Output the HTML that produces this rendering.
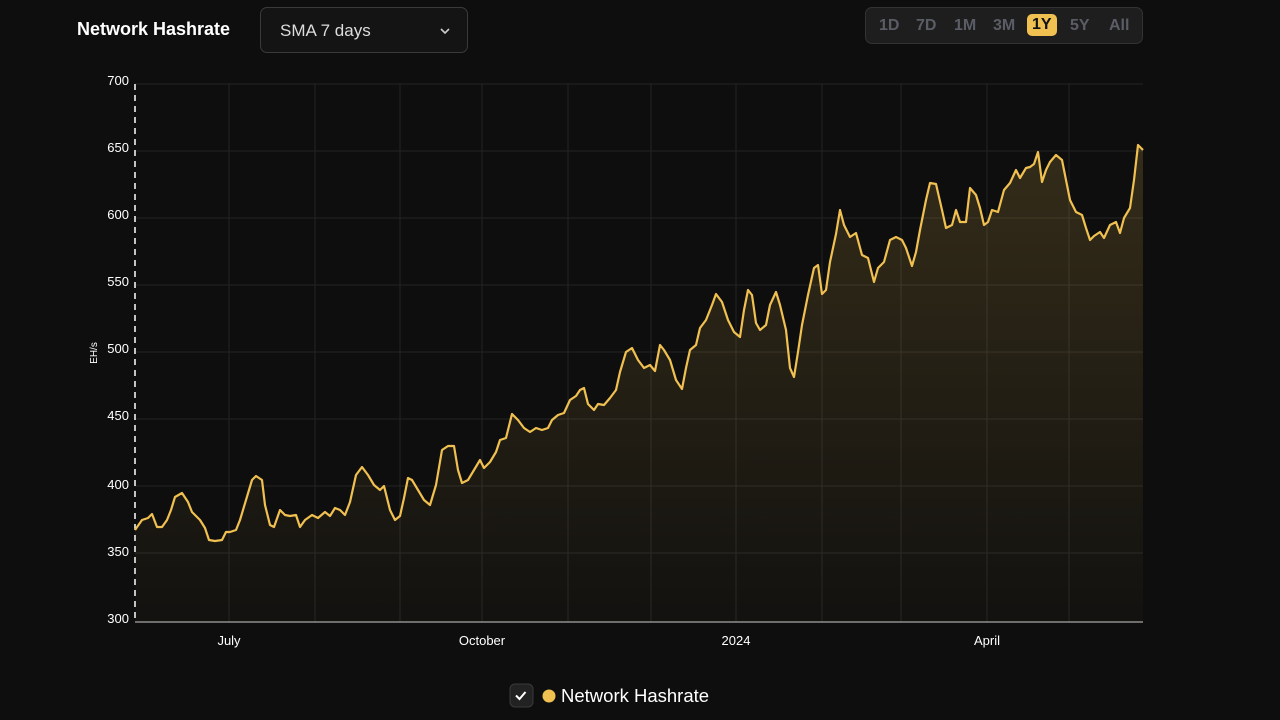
<!DOCTYPE html>
<html><head><meta charset="utf-8"><style>
body{margin:0;width:1280px;height:720px;background:#0e0e0e;overflow:hidden;font-family:"Liberation Sans",sans-serif;color:#fff}
.t{position:absolute;left:77px;top:19px;font-size:18px;font-weight:bold}
.dd{position:absolute;left:260px;top:7px;width:208px;height:46px;border:1px solid #3a3a3a;border-radius:7px;background:#141414;box-sizing:border-box}
.dd span{position:absolute;left:19px;top:13px;font-size:17px;color:#ddd}
.rg{position:absolute;left:865px;top:7px;width:278px;height:37px;border:1px solid #333;border-radius:7px;background:#1e1e1e;box-sizing:border-box}
.rg span{position:absolute;top:9px;font-size:16px;font-weight:bold;color:#5a5d66}
.rg .a{background:#f0c050;color:#111;border-radius:5px;padding:2px 5px;top:6px}
</style></head><body>
<div class="t">Network Hashrate</div>
<div class="dd"><span>SMA 7 days</span><svg style="position:absolute;left:179px;top:20px" width="10" height="7"><path d="M1 1l4 4 4-4" stroke="#ccc" stroke-width="1.6" fill="none"/></svg></div>
<div class="rg"><span style="left:13px">1D</span><span style="left:50px">7D</span><span style="left:88px">1M</span><span style="left:127px">3M</span><span class="a" style="left:161px">1Y</span><span style="left:204px">5Y</span><span style="left:243px">All</span></div>
<svg width="1280" height="720" style="position:absolute;left:0;top:0">
<defs><linearGradient id="g" x1="0" y1="0" x2="0" y2="1"><stop offset="0" stop-color="#f0c050" stop-opacity="0.17"/><stop offset="1" stop-color="#f0c050" stop-opacity="0.02"/></linearGradient></defs>
<g stroke="#242424" stroke-width="1">
<line x1="135" x2="1143" y1="84" y2="84"/><line x1="135" x2="1143" y1="151" y2="151"/><line x1="135" x2="1143" y1="218" y2="218"/><line x1="135" x2="1143" y1="285" y2="285"/><line x1="135" x2="1143" y1="352" y2="352"/><line x1="135" x2="1143" y1="419" y2="419"/><line x1="135" x2="1143" y1="486" y2="486"/><line x1="135" x2="1143" y1="553" y2="553"/>
<line x1="229" x2="229" y1="84" y2="622"/><line x1="315" x2="315" y1="84" y2="622"/><line x1="400" x2="400" y1="84" y2="622"/><line x1="482" x2="482" y1="84" y2="622"/><line x1="568" x2="568" y1="84" y2="622"/><line x1="651" x2="651" y1="84" y2="622"/><line x1="736" x2="736" y1="84" y2="622"/><line x1="822" x2="822" y1="84" y2="622"/><line x1="901" x2="901" y1="84" y2="622"/><line x1="987" x2="987" y1="84" y2="622"/><line x1="1069" x2="1069" y1="84" y2="622"/>
</g>
<line x1="135" x2="1143" y1="622" y2="622" stroke="#ccc" stroke-width="1"/>
<line x1="135" x2="135" y1="84" y2="622" stroke="#fff" stroke-width="1.5" stroke-dasharray="6,5"/>
<g font-size="13" fill="#fff" text-anchor="end">
<text x="129" y="85">700</text><text x="129" y="152">650</text><text x="129" y="219">600</text><text x="129" y="286">550</text><text x="129" y="353">500</text><text x="129" y="420">450</text><text x="129" y="489">400</text><text x="129" y="556">350</text><text x="129" y="623">300</text>
</g>
<text x="97" y="353" font-size="10" fill="#fff" text-anchor="middle" transform="rotate(-90 97 353)">EH/s</text>
<g font-size="13" fill="#fff" text-anchor="middle">
<text x="229" y="645">July</text><text x="482" y="645">October</text><text x="736" y="645">2024</text><text x="987" y="645">April</text>
</g>
<polygon fill="url(#g)" points="135,622 135,530 142,520 148,518 152,514 157,527 162,527 167,520 171,510 175,497 182,493 188,502 192,512 200,520 205,528 209,540 215,541 222,540 226,532 230,532 236,530 240,520 246,500 252,480 256,476 262,480 265,505 270,525 274,527 280,510 285,515 290,516 296,515 300,527 305,520 312,515 318,518 325,512 330,516 335,508 340,510 345,515 350,502 356,475 362,467 368,475 374,485 380,490 384,486 390,510 395,520 400,516 404,498 408,478 412,480 418,490 424,500 430,505 436,485 442,450 448,446 454,446 458,470 462,483 468,480 474,470 480,460 484,468 490,462 496,452 500,440 506,438 512,414 518,420 524,428 530,432 536,428 542,430 548,428 552,420 558,415 564,413 570,400 576,396 580,390 584,388 588,404 594,410 598,404 604,405 610,398 616,390 620,372 626,352 632,348 638,360 644,368 650,365 655,371 660,345 664,350 670,360 676,380 682,389 686,368 690,350 696,345 700,328 706,320 712,305 716,294 722,302 728,320 734,332 740,337 744,310 748,290 752,295 756,323 760,330 766,325 770,305 776,292 780,305 786,330 790,368 794,377 798,352 802,325 808,295 814,268 818,265 822,294 826,290 830,262 836,234 840,210 844,225 850,237 856,233 862,255 868,258 874,282 878,268 884,262 890,240 896,237 902,240 906,248 912,266 916,252 920,230 926,200 930,183 936,184 942,210 946,228 952,225 956,210 960,222 966,222 970,188 976,195 980,208 984,225 988,222 992,210 998,212 1004,190 1010,183 1016,170 1020,178 1026,168 1030,167 1034,164 1038,152 1042,182 1046,170 1050,162 1056,155 1062,160 1066,180 1070,200 1076,212 1082,215 1086,228 1090,240 1094,236 1100,232 1104,238 1110,225 1116,222 1120,233 1124,218 1130,208 1134,180 1138,145 1143,150 1143,622"/>
<polyline fill="none" stroke="#f0c050" stroke-width="2.2" stroke-linejoin="round" points="135,530 142,520 148,518 152,514 157,527 162,527 167,520 171,510 175,497 182,493 188,502 192,512 200,520 205,528 209,540 215,541 222,540 226,532 230,532 236,530 240,520 246,500 252,480 256,476 262,480 265,505 270,525 274,527 280,510 285,515 290,516 296,515 300,527 305,520 312,515 318,518 325,512 330,516 335,508 340,510 345,515 350,502 356,475 362,467 368,475 374,485 380,490 384,486 390,510 395,520 400,516 404,498 408,478 412,480 418,490 424,500 430,505 436,485 442,450 448,446 454,446 458,470 462,483 468,480 474,470 480,460 484,468 490,462 496,452 500,440 506,438 512,414 518,420 524,428 530,432 536,428 542,430 548,428 552,420 558,415 564,413 570,400 576,396 580,390 584,388 588,404 594,410 598,404 604,405 610,398 616,390 620,372 626,352 632,348 638,360 644,368 650,365 655,371 660,345 664,350 670,360 676,380 682,389 686,368 690,350 696,345 700,328 706,320 712,305 716,294 722,302 728,320 734,332 740,337 744,310 748,290 752,295 756,323 760,330 766,325 770,305 776,292 780,305 786,330 790,368 794,377 798,352 802,325 808,295 814,268 818,265 822,294 826,290 830,262 836,234 840,210 844,225 850,237 856,233 862,255 868,258 874,282 878,268 884,262 890,240 896,237 902,240 906,248 912,266 916,252 920,230 926,200 930,183 936,184 942,210 946,228 952,225 956,210 960,222 966,222 970,188 976,195 980,208 984,225 988,222 992,210 998,212 1004,190 1010,183 1016,170 1020,178 1026,168 1030,167 1034,164 1038,152 1042,182 1046,170 1050,162 1056,155 1062,160 1066,180 1070,200 1076,212 1082,215 1086,228 1090,240 1094,236 1100,232 1104,238 1110,225 1116,222 1120,233 1124,218 1130,208 1134,180 1138,145 1143,150"/>
<rect x="510" y="684" width="23" height="23" rx="5" fill="#222" stroke="#3a3a3a"/>
<path d="M516 695.5l3.5 3.5 6-7" stroke="#fff" stroke-width="2" fill="none"/>
<circle cx="549" cy="696" r="6.5" fill="#f0c050"/>
<text x="561" y="702" font-size="18.5" fill="#fff">Network Hashrate</text>
</svg>
</body></html>
